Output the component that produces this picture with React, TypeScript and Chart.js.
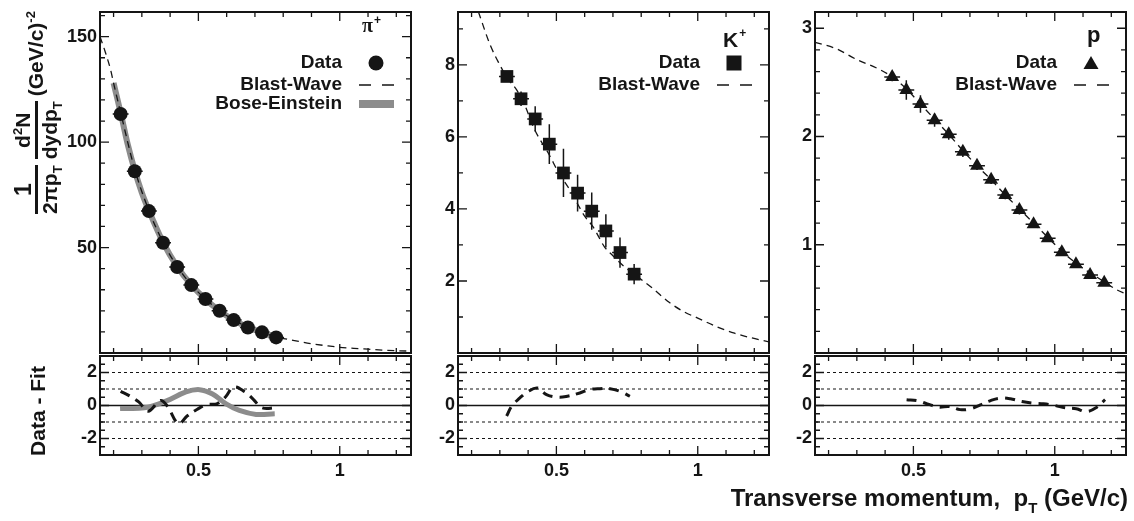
import React, { useEffect, useRef } from 'react';
import { Chart, registerables } from 'chart.js';

Chart.register(...registerables);

const FONT = "'Liberation Sans', Arial, Helvetica, sans-serif";
const SERIF = "'Liberation Serif', 'Times New Roman', serif";
const INK = '#151515';
const GREY = '#8c8c8c';

// ---- shared transverse-momentum axis (GeV/c) ----
const PT_MIN = 0.152;
const PT_MAX = 1.252;
const PT_LABELS = [0.5, 1];
const PT_MINOR = [0.2, 0.3, 0.4, 0.6, 0.7, 0.8, 0.9, 1.1, 1.2];

// ---- residual (Data - Fit) axis ----
const RES_MIN = -3;
const RES_MAX = 3;
const RES_LABELS = [-2, 0, 2];
const RES_MINOR = [-2.5, -1.5, -1, -0.5, 0.5, 1, 1.5, 2.5];
const RES_GUIDES = [-2, -1, 1, 2];

// ---- pi+ ----
const piPt = [0.225, 0.275, 0.325, 0.375, 0.425, 0.475, 0.525, 0.575, 0.625, 0.675, 0.725, 0.775];
const piYield = [113.3, 86.2, 67.3, 52.3, 40.8, 32.2, 25.6, 20.0, 15.6, 12.1, 9.8, 7.4];
const piErr = [1.6, 1.2, 0.9, 0.7, 0.6, 0.5, 0.4, 0.3, 0.3, 0.2, 0.2, 0.2];
const piBwPt = [0.152, 0.17, 0.19, 0.2, 0.225, 0.275, 0.325, 0.375, 0.425, 0.475, 0.525, 0.575, 0.625, 0.675, 0.725, 0.775, 0.85, 0.9, 0.95, 1.0, 1.05, 1.1, 1.15, 1.2, 1.252];
const piBwYield = [150, 143, 134, 128, 114, 87, 67.5, 52.5, 41, 32.3, 25.6, 20, 15.7, 12.2, 9.8, 7.7, 5.6, 4.4, 3.5, 2.7, 2.2, 1.8, 1.4, 1.1, 0.9];
const piBePt = [0.2, 0.225, 0.25, 0.275, 0.3, 0.325, 0.375, 0.425, 0.475, 0.525, 0.575, 0.625, 0.675, 0.725, 0.78];
const piBeYield = [128, 114, 99, 86.5, 76, 67.5, 52.5, 41, 32.3, 25.5, 20, 15.6, 12.2, 9.7, 7.3];
const piBwResPt = [0.225, 0.255, 0.29, 0.322, 0.366, 0.39, 0.43, 0.46, 0.495, 0.53, 0.565, 0.595, 0.625, 0.665, 0.695, 0.725, 0.775];
const piBwRes = [0.86, 0.6, 0.2, -0.35, 0.3, -0.04, -1.1, -0.64, -0.24, 0.06, 0.1, 0.5, 1.12, 0.82, 0.36, -0.14, -0.14];
const piBeResPt = [0.223, 0.309, 0.385, 0.456, 0.504, 0.55, 0.598, 0.645, 0.704, 0.77];
const piBeRes = [-0.18, -0.14, 0.26, 0.82, 0.96, 0.7, 0.1, -0.3, -0.54, -0.5];
const piYLabels = [50, 100, 150];
const piYMinor = [10, 20, 30, 40, 60, 70, 80, 90, 110, 120, 130, 140, 160];

// ---- K+ ----
const kPt = [0.325, 0.375, 0.425, 0.475, 0.525, 0.575, 0.625, 0.675, 0.725, 0.775];
const kYield = [7.68, 7.06, 6.5, 5.8, 5.0, 4.44, 3.94, 3.39, 2.79, 2.19];
const kErr = [0.15, 0.2, 0.35, 0.55, 0.67, 0.51, 0.52, 0.46, 0.42, 0.28];
const kBwPt = [0.224, 0.266, 0.3, 0.325, 0.36, 0.39, 0.42, 0.475, 0.505, 0.55, 0.6, 0.63, 0.67, 0.7, 0.74, 0.79, 0.84, 0.9, 0.95, 1.0, 1.07, 1.13, 1.19, 1.252];
const kBwYield = [9.48, 8.55, 8.0, 7.65, 7.3, 6.85, 6.25, 5.5, 5.05, 4.5, 3.8, 3.5, 2.95, 2.7, 2.4, 2.1, 1.8, 1.4, 1.15, 0.97, 0.72, 0.55, 0.42, 0.31];
const kBwResPt = [0.324, 0.342, 0.371, 0.397, 0.433, 0.465, 0.506, 0.539, 0.583, 0.616, 0.654, 0.69, 0.73, 0.76];
const kBwRes = [-0.64, -0.04, 0.46, 0.82, 1.06, 0.66, 0.5, 0.56, 0.76, 0.96, 1.02, 1.02, 0.82, 0.56];
const kYLabels = [2, 4, 6, 8];
const kYMinor = [1, 3, 5, 7, 9];

// ---- p ----
const pPt = [0.425, 0.475, 0.525, 0.575, 0.625, 0.675, 0.725, 0.775, 0.825, 0.875, 0.925, 0.975, 1.025, 1.075, 1.125, 1.175];
const pYield = [2.55, 2.43, 2.3, 2.15, 2.02, 1.86, 1.73, 1.6, 1.46, 1.32, 1.19, 1.06, 0.93, 0.82, 0.72, 0.65];
const pErr = [0.04, 0.09, 0.08, 0.06, 0.05, 0.05, 0.04, 0.04, 0.04, 0.04, 0.03, 0.03, 0.03, 0.03, 0.03, 0.03];
const pBwPt = [0.152, 0.228, 0.3, 0.38, 0.425, 0.475, 0.525, 0.575, 0.625, 0.675, 0.725, 0.775, 0.825, 0.875, 0.925, 0.975, 1.025, 1.075, 1.125, 1.175, 1.215, 1.257];
const pBwYield = [2.87, 2.81, 2.71, 2.62, 2.55, 2.44, 2.3, 2.16, 2.02, 1.87, 1.73, 1.6, 1.46, 1.33, 1.2, 1.07, 0.94, 0.83, 0.74, 0.66, 0.59, 0.54];
const pBwResPt = [0.476, 0.514, 0.549, 0.59, 0.626, 0.665, 0.702, 0.737, 0.773, 0.808, 0.843, 0.884, 0.925, 0.96, 1.0, 1.037, 1.076, 1.113, 1.149, 1.178];
const pBwRes = [0.35, 0.29, 0.1, -0.1, -0.06, -0.25, -0.2, 0.04, 0.3, 0.45, 0.41, 0.24, 0.14, 0.1, 0, -0.14, -0.2, -0.37, -0.1, 0.35];
const pYLabels = [1, 2, 3];
const pYMinor = [0.2, 0.4, 0.6, 0.8, 1.2, 1.4, 1.6, 1.8, 2.2, 2.4, 2.6, 2.8];

// ---- page geometry ----
const FRAME_LEFT = [100, 458, 815];
const FRAME_WIDTH = 311;
const TOP_FRAME_TOP = 12;
const TOP_FRAME_BOTTOM = 353;
const RES_FRAME_TOP = 356;
const RES_FRAME_BOTTOM = 455;
const AXIS_W = 50;
const PAD_R = 8;
const X_AXIS_H = 30;

type Symbol = 'circle' | 'square' | 'triangle' | 'dash' | 'band';
type LegendRow = { text: string; symbol: Symbol };

const pts = (xs: number[], ys: number[]) => xs.map((x, i) => ({ x, y: ys[i] }));
const tickFont = { family: FONT, size: 18, weight: 'bold' as const };

function frameAndTicks(yLabels: number[], yMinor: number[]) {
  return {
    id: 'frameAndTicks',
    afterDatasetsDraw(chart: any) {
      const { ctx, chartArea: a } = chart;
      const xs = chart.scales.x;
      const ys = chart.scales.y;
      ctx.save();
      ctx.strokeStyle = INK;
      ctx.lineWidth = 1.3;
      ctx.beginPath();
      const xTick = (v: number, len: number) => {
        const p = xs.getPixelForValue(v);
        ctx.moveTo(p, a.bottom);
        ctx.lineTo(p, a.bottom - len);
        ctx.moveTo(p, a.top);
        ctx.lineTo(p, a.top + len);
      };
      const yTick = (v: number, len: number) => {
        const p = ys.getPixelForValue(v);
        ctx.moveTo(a.left, p);
        ctx.lineTo(a.left + len, p);
        ctx.moveTo(a.right, p);
        ctx.lineTo(a.right - len, p);
      };
      PT_LABELS.forEach((v) => xTick(v, 9));
      PT_MINOR.forEach((v) => xTick(v, 5));
      yLabels.forEach((v) => yTick(v, 9));
      yMinor.forEach((v) => yTick(v, 5));
      ctx.stroke();
      ctx.lineWidth = 2;
      ctx.strokeRect(a.left, a.top, a.right - a.left, a.bottom - a.top);
      ctx.restore();
    },
  };
}

function errorBars(xv: number[], yv: number[], err: number[]) {
  return {
    id: 'errorBars',
    beforeDatasetsDraw(chart: any) {
      const { ctx } = chart;
      const xs = chart.scales.x;
      const ys = chart.scales.y;
      ctx.save();
      ctx.strokeStyle = INK;
      ctx.lineWidth = 1.5;
      ctx.beginPath();
      xv.forEach((x, i) => {
        const px = xs.getPixelForValue(x);
        const py = ys.getPixelForValue(yv[i]);
        ctx.moveTo(px, ys.getPixelForValue(yv[i] - err[i]));
        ctx.lineTo(px, ys.getPixelForValue(yv[i] + err[i]));
        ctx.moveTo(xs.getPixelForValue(x - 0.028), py);
        ctx.lineTo(xs.getPixelForValue(x + 0.028), py);
      });
      ctx.stroke();
      ctx.restore();
    },
  };
}

function drawSymbol(ctx: CanvasRenderingContext2D, kind: Symbol, cx: number, cy: number) {
  ctx.fillStyle = INK;
  ctx.strokeStyle = INK;
  ctx.beginPath();
  if (kind === 'circle') {
    ctx.arc(cx, cy, 7.5, 0, Math.PI * 2);
    ctx.fill();
  } else if (kind === 'square') {
    ctx.fillRect(cx - 7.5, cy - 7.5, 15, 15);
  } else if (kind === 'triangle') {
    ctx.moveTo(cx, cy - 7);
    ctx.lineTo(cx + 7.5, cy + 6);
    ctx.lineTo(cx - 7.5, cy + 6);
    ctx.closePath();
    ctx.fill();
  } else if (kind === 'dash') {
    ctx.lineWidth = 1.4;
    ctx.moveTo(cx - 17, cy);
    ctx.lineTo(cx - 5, cy);
    ctx.moveTo(cx + 6, cy);
    ctx.lineTo(cx + 18, cy);
    ctx.stroke();
  } else {
    ctx.fillStyle = GREY;
    ctx.fillRect(cx - 17, cy - 4, 35, 8);
  }
}

function legendBox(rows: LegendRow[], species: (ctx: CanvasRenderingContext2D, right: number, top: number) => void) {
  const rowY = [51, 73, 92];
  return {
    id: 'legendBox',
    afterDraw(chart: any) {
      const { ctx, chartArea: a } = chart;
      ctx.save();
      ctx.textAlign = 'right';
      ctx.textBaseline = 'middle';
      ctx.font = `bold 19px ${FONT}`;
      rows.forEach((r, i) => {
        ctx.fillStyle = INK;
        ctx.fillText(r.text, a.right - 69, a.top + rowY[i]);
        drawSymbol(ctx, r.symbol, a.right - 35, a.top + rowY[i]);
      });
      ctx.fillStyle = INK;
      ctx.textAlign = 'left';
      ctx.textBaseline = 'alphabetic';
      species(ctx, a.right, a.top);
      ctx.restore();
    },
  };
}

function xScale(show: boolean) {
  return {
    type: 'linear',
    min: PT_MIN,
    max: PT_MAX,
    display: show,
    grid: { display: false, drawTicks: false },
    border: { display: false },
    afterBuildTicks: (s: any) => {
      s.ticks = PT_LABELS.map((value) => ({ value }));
    },
    afterFit: (s: any) => {
      s.height = show ? X_AXIS_H : 0;
      s.paddingLeft = 0;
      s.paddingRight = 0;
    },
    ticks: {
      font: tickFont,
      color: INK,
      padding: 5,
      autoSkip: false,
      maxRotation: 0,
      callback: (v: any) => String(v),
    },
  };
}

function yScale(min: number, max: number, labels: number[]) {
  return {
    type: 'linear',
    min,
    max,
    grid: { display: false, drawTicks: false },
    border: { display: false },
    afterBuildTicks: (s: any) => {
      s.ticks = labels.map((value) => ({ value }));
    },
    afterFit: (s: any) => {
      s.width = AXIS_W;
      s.paddingTop = 0;
      s.paddingBottom = 0;
    },
    ticks: {
      font: tickFont,
      color: INK,
      padding: 3,
      autoSkip: false,
      callback: (v: any) => String(v),
    },
  };
}

function baseOptions(padding: any, scales: any) {
  return {
    responsive: false,
    animation: false,
    events: [],
    layout: { padding, autoPadding: false },
    plugins: { legend: { display: false }, tooltip: { enabled: false } },
    scales,
  };
}

type Spectrum = {
  pt: number[];
  y: number[];
  err: number[];
  marker: 'circle' | 'rect' | 'triangle';
  radius: number;
  bwPt: number[];
  bwY: number[];
  bePt?: number[];
  beY?: number[];
  yMax: number;
  yLabels: number[];
  yMinor: number[];
  rows: LegendRow[];
  species: (ctx: CanvasRenderingContext2D, right: number, top: number) => void;
};

function spectrumConfig(s: Spectrum): any {
  const datasets: any[] = [
    {
      data: pts(s.pt, s.y),
      showLine: false,
      pointStyle: s.marker,
      pointRadius: s.radius,
      pointBackgroundColor: INK,
      pointBorderColor: INK,
      pointBorderWidth: 0,
      order: 0,
    },
    {
      data: pts(s.bwPt, s.bwY),
      borderColor: INK,
      borderWidth: 1.3,
      borderDash: [7, 5],
      pointRadius: 0,
      cubicInterpolationMode: 'monotone',
      order: 1,
    },
  ];
  if (s.bePt && s.beY) {
    datasets.push({
      data: pts(s.bePt, s.beY),
      borderColor: GREY,
      borderWidth: 6,
      pointRadius: 0,
      cubicInterpolationMode: 'monotone',
      order: 2,
    });
  }
  return {
    type: 'line',
    data: { datasets },
    options: baseOptions(
      { top: TOP_FRAME_TOP, right: PAD_R, bottom: 2, left: 0 },
      { x: xScale(false), y: yScale(0, s.yMax, s.yLabels) }
    ),
    plugins: [errorBars(s.pt, s.y, s.err), frameAndTicks(s.yLabels, s.yMinor), legendBox(s.rows, s.species)],
  };
}

function residualConfig(curves: { pt: number[]; res: number[]; grey?: boolean }[]): any {
  const datasets: any[] = [];
  RES_GUIDES.forEach((g) => {
    datasets.push({
      data: [{ x: PT_MIN, y: g }, { x: PT_MAX, y: g }],
      borderColor: INK,
      borderWidth: 1,
      borderDash: [3, 3],
      pointRadius: 0,
      order: 5,
    });
  });
  datasets.push({
    data: [{ x: PT_MIN, y: 0 }, { x: PT_MAX, y: 0 }],
    borderColor: INK,
    borderWidth: 1.5,
    pointRadius: 0,
    order: 4,
  });
  curves.forEach((c) => {
    datasets.push(
      c.grey
        ? { data: pts(c.pt, c.res), borderColor: GREY, borderWidth: 5, pointRadius: 0, tension: 0.4, order: 2 }
        : { data: pts(c.pt, c.res), borderColor: INK, borderWidth: 3, borderDash: [10, 7], pointRadius: 0, tension: 0.4, order: 1 }
    );
  });
  return {
    type: 'line',
    data: { datasets },
    options: baseOptions(
      { top: 4, right: PAD_R, bottom: 0, left: 0 },
      { x: xScale(true), y: yScale(RES_MIN, RES_MAX, RES_LABELS) }
    ),
    plugins: [frameAndTicks(RES_LABELS, RES_MINOR)],
  };
}

const piSpectrum = (): any =>
  spectrumConfig({
    pt: piPt,
    y: piYield,
    err: piErr,
    marker: 'circle',
    radius: 7,
    bwPt: piBwPt,
    bwY: piBwYield,
    bePt: piBePt,
    beY: piBeYield,
    yMax: 161.7,
    yLabels: piYLabels,
    yMinor: piYMinor,
    rows: [
      { text: 'Data', symbol: 'circle' },
      { text: 'Blast-Wave', symbol: 'dash' },
      { text: 'Bose-Einstein', symbol: 'band' },
    ],
    species: (ctx, right, top) => {
      ctx.font = `bold 20px ${SERIF}`;
      ctx.fillText('π', right - 49, top + 20);
      const w = ctx.measureText('π').width;
      ctx.font = `bold 12px ${FONT}`;
      ctx.fillText('+', right - 49 + w + 1, top + 12);
    },
  });

const kSpectrum = (): any =>
  spectrumConfig({
    pt: kPt,
    y: kYield,
    err: kErr,
    marker: 'rect',
    radius: 9,
    bwPt: kBwPt,
    bwY: kBwYield,
    yMax: 9.47,
    yLabels: kYLabels,
    yMinor: kYMinor,
    rows: [
      { text: 'Data', symbol: 'square' },
      { text: 'Blast-Wave', symbol: 'dash' },
    ],
    species: (ctx, right, top) => {
      ctx.font = `bold 21px ${FONT}`;
      ctx.fillText('K', right - 46, top + 35);
      const w = ctx.measureText('K').width;
      ctx.font = `bold 12px ${FONT}`;
      ctx.fillText('+', right - 46 + w + 1, top + 25);
    },
  });

const pSpectrum = (): any =>
  spectrumConfig({
    pt: pPt,
    y: pYield,
    err: pErr,
    marker: 'triangle',
    radius: 8,
    bwPt: pBwPt,
    bwY: pBwYield,
    yMax: 3.15,
    yLabels: pYLabels,
    yMinor: pYMinor,
    rows: [
      { text: 'Data', symbol: 'triangle' },
      { text: 'Blast-Wave', symbol: 'dash' },
    ],
    species: (ctx, right, top) => {
      ctx.font = `bold 22px ${FONT}`;
      ctx.fillText('p', right - 39, top + 30);
    },
  });

const piResidual = (): any =>
  residualConfig([
    { pt: piBeResPt, res: piBeRes, grey: true },
    { pt: piBwResPt, res: piBwRes },
  ]);
const kResidual = (): any => residualConfig([{ pt: kBwResPt, res: kBwRes }]);
const pResidual = (): any => residualConfig([{ pt: pBwResPt, res: pBwRes }]);

function ChartCanvas({ left, top, width, height, make }: { left: number; top: number; width: number; height: number; make: () => any }) {
  const ref = useRef<HTMLCanvasElement | null>(null);
  useEffect(() => {
    if (!ref.current) return;
    const chart = new Chart(ref.current, make());
    return () => chart.destroy();
  }, [make]);
  return <canvas ref={ref} width={width} height={height} style={{ position: 'absolute', left, top, width, height }} />;
}

const subStyle: React.CSSProperties = { fontSize: 13, verticalAlign: -5, lineHeight: 0 };
const supStyle: React.CSSProperties = { fontSize: 13, verticalAlign: 8, lineHeight: 0 };
const fracStyle: React.CSSProperties = { display: 'inline-flex', flexDirection: 'column', alignItems: 'center', margin: '0 3px' };
const barStyle: React.CSSProperties = { alignSelf: 'stretch', borderTop: `3px solid ${INK}`, margin: '1px 0' };

function YieldTitle() {
  return (
    <div
      style={{
        position: 'absolute',
        left: 36 - 115,
        top: 114 - 32,
        width: 230,
        height: 64,
        transform: 'rotate(-90deg)',
        display: 'flex',
        alignItems: 'center',
        justifyContent: 'center',
        font: `bold 21px ${FONT}`,
        lineHeight: '22px',
        color: INK,
        whiteSpace: 'nowrap',
      }}
    >
      <span style={fracStyle}>
        <span style={{ fontSize: 23 }}>1</span>
        <span style={barStyle} />
        <span>
          2πp<span style={subStyle}>T</span>
        </span>
      </span>
      <span style={fracStyle}>
        <span>
          d<span style={supStyle}>2</span>N
        </span>
        <span style={barStyle} />
        <span>
          dydp<span style={subStyle}>T</span>
        </span>
      </span>
      <span style={{ marginLeft: 2 }}>
        (GeV/c)<span style={supStyle}>-2</span>
      </span>
    </div>
  );
}

export default function App() {
  const spectra = [piSpectrum, kSpectrum, pSpectrum];
  const residuals = [piResidual, kResidual, pResidual];
  const w = AXIS_W + FRAME_WIDTH + PAD_R;
  return (
    <div style={{ position: 'fixed', left: 0, top: 0, width: 1134, height: 521, background: '#fff', overflow: 'hidden' }}>
      {spectra.map((make, i) => (
        <ChartCanvas key={`s${i}`} left={FRAME_LEFT[i] - AXIS_W} top={0} width={w} height={TOP_FRAME_BOTTOM + 2} make={make} />
      ))}
      {residuals.map((make, i) => (
        <ChartCanvas
          key={`r${i}`}
          left={FRAME_LEFT[i] - AXIS_W}
          top={RES_FRAME_TOP - 4}
          width={w}
          height={RES_FRAME_BOTTOM - RES_FRAME_TOP + 4 + X_AXIS_H}
          make={make}
        />
      ))}
      <YieldTitle />
      <div
        style={{
          position: 'absolute',
          left: 38 - 60,
          top: 411 - 13,
          width: 120,
          height: 26,
          transform: 'rotate(-90deg)',
          textAlign: 'center',
          font: `bold 21px ${FONT}`,
          lineHeight: '26px',
          color: INK,
          whiteSpace: 'nowrap',
        }}
      >
        Data - Fit
      </div>
      <div
        style={{
          position: 'absolute',
          right: 6,
          top: 484,
          font: `bold 24px ${FONT}`,
          lineHeight: '28px',
          color: INK,
          whiteSpace: 'pre',
        }}
      >
        {'Transverse momentum,  p'}
        <span style={{ fontSize: 15, verticalAlign: -7, lineHeight: 0 }}>T</span>
        {' (GeV/c)'}
      </div>
    </div>
  );
}
